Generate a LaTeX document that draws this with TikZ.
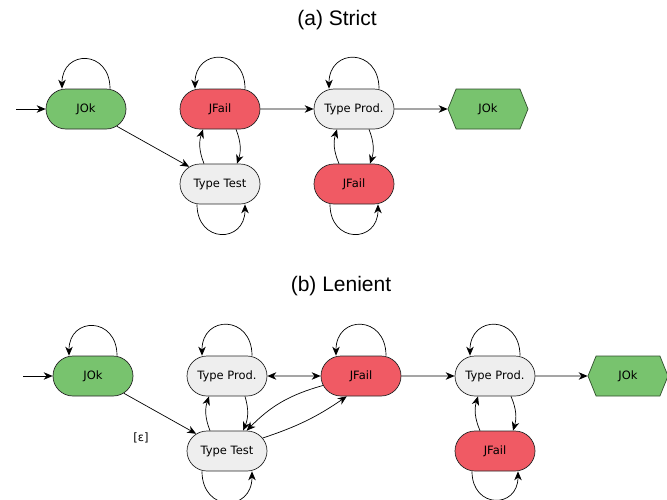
\documentclass[tikz,border=0pt]{standalone}
\usepackage{fontspec}
\setmainfont{DejaVu Sans}
\newfontfamily\titlefont{Liberation Sans}
\usepackage{xcolor}
\usepackage{tikz}
\usetikzlibrary{shapes.misc,shapes.symbols,arrows.meta,positioning}
\definecolor{okgreen}{RGB}{120,195,110}
\definecolor{failred}{RGB}{240,90,100}
\definecolor{testgray}{RGB}{238,238,238}

\begin{document}
\begin{tikzpicture}[x=1pt,y=1pt,line width=0.7pt,>={Stealth[length=9pt,width=7.5pt]}]
  \tikzset{every node/.style={font=\fontsize{11.5}{13}\selectfont,text=black},
    pill/.style={shape=rounded rectangle,draw=black!85,minimum width=80pt,minimum height=40pt,inner sep=0pt},
    okpill/.style={pill,fill=okgreen},
    failpill/.style={pill,fill=failred},
    testpill/.style={pill,fill=testgray},
    okhex/.style={shape=signal,signal to=east and west,signal pointer angle=136,draw=black!60!okgreen,fill=okgreen,minimum width=80pt,minimum height=40pt,inner sep=0pt},
    title/.style={font=\titlefont\fontsize{21}{24}\selectfont,text=black}};
  \useasboundingbox (0,0) rectangle (667,-499);
  % (a) strict
  \node[title] (titleA) at (337,-20) {(a) Strict};
  \coordinate (aIn) at (16,-109);
  \node[okpill] (aOk) at (86,-109) {JOk};
  \node[failpill] (aFail) at (220,-109) {JFail};
  \node[testpill] (aTest) at (220,-184) {Type Test};
  \node[testpill] (aProd) at (354,-109) {Type Prod.};
  \node[failpill] (aFail2) at (354,-184) {JFail};
  \node[okhex] (aEnd) at (488,-109) {JOk};
  \draw[->] (aIn) -- (aOk);
  \draw[->] ([xshift=24pt]aOk.north) to[out=90,in=90,looseness=2.1] ([xshift=-24pt]aOk.north);
  \draw[->] (aOk) -- (aTest);
  \draw[->] ([xshift=25pt]aFail.north) to[out=90,in=90,looseness=2.1] ([xshift=-25pt]aFail.north);
  \draw[->] ([xshift=-16pt]aTest.north) to[bend left=20] ([xshift=-17pt]aFail.south);
  \draw[->] ([xshift=16pt]aFail.south) to[bend left=20] ([xshift=17pt]aTest.north);
  \draw[->] ([xshift=-23pt]aTest.south) to[out=-90,in=-90,looseness=2.1] ([xshift=25pt]aTest.south);
  \draw[->] (aFail) -- (aProd);
  \draw[->] ([xshift=25pt]aProd.north) to[out=90,in=90,looseness=2.1] ([xshift=-25pt]aProd.north);
  \draw[->] ([xshift=-15pt]aFail2.north) to[bend left=20] ([xshift=-17pt]aProd.south);
  \draw[->] ([xshift=15pt]aProd.south) to[bend left=20] ([xshift=16pt]aFail2.north);
  \draw[->] ([xshift=-24pt]aFail2.south) to[out=-90,in=-90,looseness=2.1] ([xshift=24pt]aFail2.south);
  \draw[->] (aProd) -- (aEnd);
  % (b) lenient
  \node[title] (titleB) at (341,-286) {(b) Lenient};
  \coordinate (bIn) at (23,-376);
  \node[okpill] (bOk) at (93,-376) {JOk};
  \node[testpill] (bProd) at (227,-376) {Type Prod.};
  \node[failpill] (bFail) at (361,-376) {JFail};
  \node[testpill] (bTest) at (227,-451) {Type Test};
  \node[testpill] (bProd2) at (495,-376) {Type Prod.};
  \node[failpill] (bFail2) at (495,-451) {JFail};
  \node[okhex] (bEnd) at (628,-376) {JOk};
  \draw[->] (bIn) -- (bOk);
  \draw[->] ([xshift=24pt]bOk.north) to[out=90,in=90,looseness=2.1] ([xshift=-24pt]bOk.north);
  \draw[->] (bOk) -- (bTest) node[pos=0.5,below left=19pt and 11pt,inner sep=0pt] {[ε]};
  \draw[->] ([xshift=25pt]bProd.north) to[out=90,in=90,looseness=2.1] ([xshift=-25pt]bProd.north);
  \draw[<->] (bProd) -- (bFail);
  \draw[->] ([xshift=-17pt]bTest.north) to[bend left=20] ([xshift=-18pt]bProd.south);
  \draw[->] ([xshift=18pt]bProd.south) to[bend left=20] ([xshift=16pt]bTest.north);
  \draw[->] ([xshift=-25pt]bTest.south) to[out=-90,in=-90,looseness=2.1] ([xshift=25pt]bTest.south);
  \draw[->] ([xshift=25pt]bFail.north) to[out=90,in=90,looseness=2.1] ([xshift=-25pt]bFail.north);
  \draw[->] (bFail.194) to[bend right=15] (bTest.46);
  \draw[->] (bTest.20) to[bend right=8] (bFail.235);
  \draw[->] (bFail) -- (bProd2);
  \draw[->] ([xshift=25pt]bProd2.north) to[out=90,in=90,looseness=2.1] ([xshift=-25pt]bProd2.north);
  \draw[->] ([xshift=-15pt]bFail2.north) to[bend left=20] ([xshift=-17pt]bProd2.south);
  \draw[->] ([xshift=16pt]bProd2.south) to[bend left=20] ([xshift=18pt]bFail2.north);
  \draw[->] ([xshift=-23pt]bFail2.south) to[out=-90,in=-90,looseness=2.1] ([xshift=23pt]bFail2.south);
  \draw[->] (bProd2) -- (bEnd);
\end{tikzpicture}
\end{document}
